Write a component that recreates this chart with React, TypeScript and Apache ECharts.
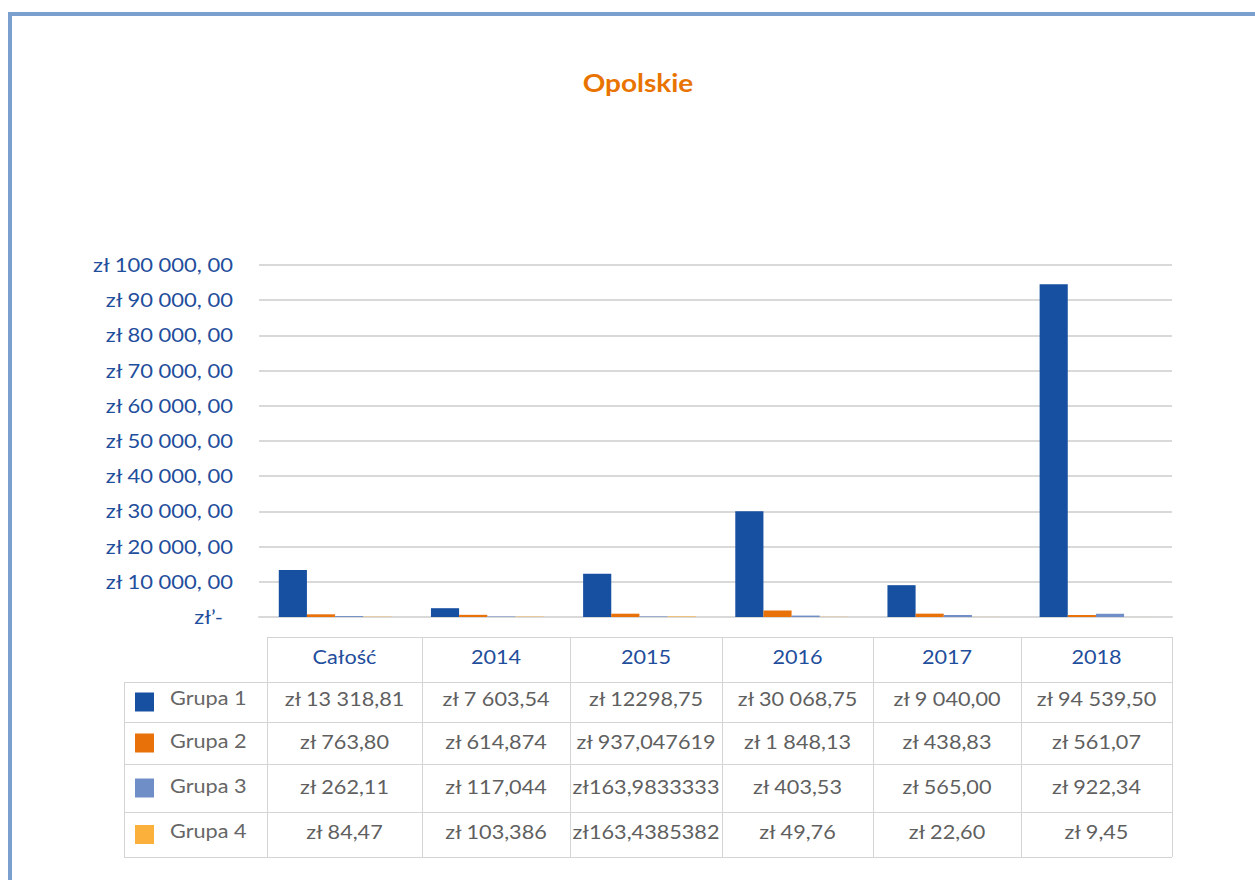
import React, { useEffect, useRef } from "react";
import * as echarts from "echarts";

const titleText = "Opolskie";
const categories = ["Całość", "2014", "2015", "2016", "2017", "2018"];
const seriesNames = ["Grupa 1", "Grupa 2", "Grupa 3", "Grupa 4"];
const seriesColors = ["#1750A0", "#E8710A", "#6F8DC6", "#FBB03B"];

// bar heights as drawn in the picture
const group1 = [13318.81, 2500, 12298.75, 30068.75, 9040, 94539.5];
const group2 = [763.8, 614.87, 937.05, 1848.13, 950, 561.07];
const group3 = [262.11, 117.04, 163.98, 403.53, 565, 922.34];
const group4 = [84.47, 103.39, 163.44, 49.76, 22.6, 9.45];

// y-axis ticks and their labels
const yTicks = [0, 10000, 20000, 30000, 40000, 50000, 60000, 70000, 80000, 90000, 100000];
const yTickLabels = [
  "zł’-",
  "zł 10 000, 00",
  "zł 20 000, 00",
  "zł 30 000, 00",
  "zł 40 000, 00",
  "zł 50 000, 00",
  "zł 60 000, 00",
  "zł 70 000, 00",
  "zł 80 000, 00",
  "zł 90 000, 00",
  "zł 100 000, 00",
];

// data-table texts as printed below the chart
const tableRow1 = ["zł 13 318,81", "zł 7 603,54", "zł 12298,75", "zł 30 068,75", "zł 9 040,00", "zł 94 539,50"];
const tableRow2 = ["zł 763,80", "zł 614,874", "zł 937,047619", "zł 1 848,13", "zł 438,83", "zł 561,07"];
const tableRow3 = ["zł 262,11", "zł 117,044", "zł163,9833333", "zł 403,53", "zł 565,00", "zł 922,34"];
const tableRow4 = ["zł 84,47", "zł 103,386", "zł163,4385382", "zł 49,76", "zł 22,60", "zł 9,45"];

export default function App() {
  const ref = useRef<HTMLDivElement>(null);
  useEffect(() => {
    if (!ref.current) return;
    const chart = echarts.init(ref.current, null, { renderer: "svg" });
    const allData = [group1, group2, group3, group4];
    const rows = [tableRow1, tableRow2, tableRow3, tableRow4];

    chart.setOption({
      animation: false,
      backgroundColor: "#ffffff",
      grid: { left: 259, right: 83, top: 265, bottom: 263 },
      xAxis: {
        type: "category",
        data: categories,
        axisLine: { show: true, lineStyle: { color: "#D9D9D9", width: 2 } },
        axisTick: { show: false },
        axisLabel: { show: false },
      },
      yAxis: {
        type: "value",
        min: yTicks[0],
        max: yTicks[yTicks.length - 1],
        interval: yTicks[1] - yTicks[0],
        axisLine: { show: false },
        axisTick: { show: false },
        splitLine: { lineStyle: { color: "#D9D9D9", width: 2 } },
        axisLabel: { show: false },
      },
      series: allData.map((d, i) => ({
        name: seriesNames[i],
        type: "bar",
        data: d,
        barGap: "0%",
        barCategoryGap: "26%",
        itemStyle: { color: seriesColors[i] },
      })),
    });

    const colX = [267, 422, 570, 722, 873, 1021, 1172];
    const rowY = [637, 682, 722, 764, 812, 857];
    const textY = [657, 699, 742, 787, 832];
    const lineColor = "#D4D4D4";
    const graphics: any[] = [];

    // frame
    graphics.push({
      type: "rect",
      shape: { x: 10, y: 14, width: 1300, height: 950 },
      style: { fill: "none", stroke: "#7BA0CF", lineWidth: 4 },
      silent: true,
    });

    // title
    graphics.push({
      type: "text",
      x: 638,
      y: 83,
      scaleX: 1.12,
      style: {
        text: titleText,
        textAlign: "center",
        textVerticalAlign: "middle",
        fill: "#E97300",
        font: "bold 25px Lato",
      },
    });

    // y tick labels, placed through the axis scale
    yTicks.forEach((v, i) => {
      const py = chart.convertToPixel({ yAxisIndex: 0 }, v) as number;
      graphics.push({
        type: "text",
        x: v === 0 ? 223 : 233,
        y: py - 1,
        scaleX: 1.1,
        style: {
          text: yTickLabels[i],
          textAlign: "right",
          textVerticalAlign: "middle",
          fill: "#1F4E9C",
          font: "20px Lato",
        },
      });
    });

    // table lines
    graphics.push({
      type: "line",
      shape: { x1: colX[0], y1: rowY[0] + 0.5, x2: colX[6], y2: rowY[0] + 0.5 },
      style: { stroke: lineColor, lineWidth: 1 },
    });
    for (let r = 1; r < rowY.length; r++) {
      graphics.push({
        type: "line",
        shape: { x1: 124, y1: rowY[r] + 0.5, x2: colX[6], y2: rowY[r] + 0.5 },
        style: { stroke: lineColor, lineWidth: 1 },
      });
    }
    for (let c = 0; c < colX.length; c++) {
      graphics.push({
        type: "line",
        shape: { x1: colX[c] + 0.5, y1: rowY[0], x2: colX[c] + 0.5, y2: rowY[5] },
        style: { stroke: lineColor, lineWidth: 1 },
      });
    }
    graphics.push({
      type: "line",
      shape: { x1: 124.5, y1: rowY[1], x2: 124.5, y2: rowY[5] },
      style: { stroke: lineColor, lineWidth: 1 },
    });

    // header texts
    categories.forEach((cat, i) => {
      graphics.push({
        type: "text",
        x: (colX[i] + colX[i + 1]) / 2,
        y: textY[0],
        scaleX: 1.14,
        style: {
          text: cat,
          textAlign: "center",
          textVerticalAlign: "middle",
          fill: "#1F4E9C",
          font: "19px Lato",
        },
      });
    });

    // rows
    rows.forEach((row, r) => {
      const cy = textY[r + 1];
      const boxY = (rowY[r + 1] + rowY[r + 2]) / 2;
      graphics.push({
        type: "rect",
        shape: { x: 135, y: boxY - 9.5, width: 19, height: 19 },
        style: { fill: seriesColors[r] },
      });
      graphics.push({
        type: "text",
        x: 170,
        y: cy - 1,
        scaleX: 1.14,
        style: {
          text: seriesNames[r],
          textAlign: "left",
          textVerticalAlign: "middle",
          fill: "#666666",
          font: "19px Lato",
        },
      });
      row.forEach((txt, i) => {
        graphics.push({
          type: "text",
          x: (colX[i] + colX[i + 1]) / 2,
          y: cy,
          scaleX: 1.14,
          style: {
            text: txt,
            textAlign: "center",
            textVerticalAlign: "middle",
            fill: "#5F5F5F",
            font: "19px Lato",
          },
        });
      });
    });

    chart.setOption({ graphic: graphics });
    return () => chart.dispose();
  }, []);
  return (
    <div
      ref={ref}
      style={{ position: "fixed", left: 0, top: 0, width: 1255, height: 880 }}
    />
  );
}
